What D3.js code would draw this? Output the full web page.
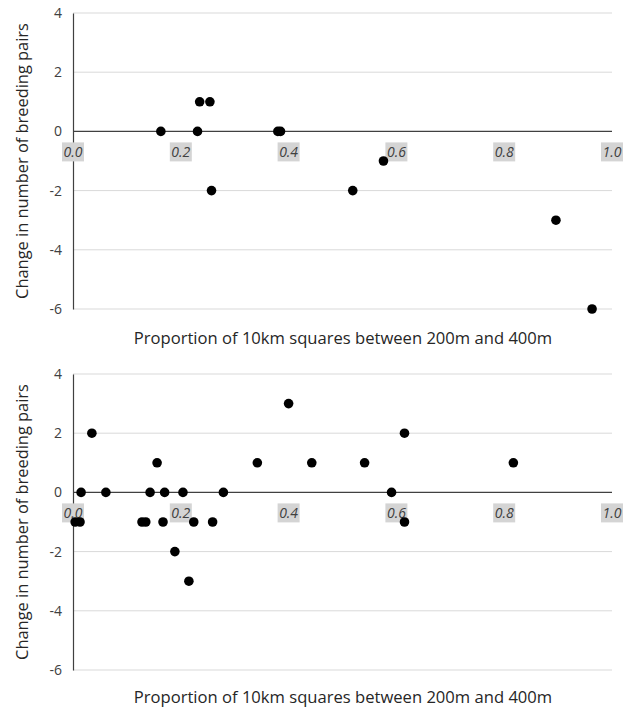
<!DOCTYPE html>
<html>
<head>
<meta charset="utf-8">
<script src="https://cdn.jsdelivr.net/npm/d3@7"></script>
<style>
body { margin: 0; background: #fff; }
</style>
</head>
<body>
<div id="chart"></div>
<script>
// top panel points
var topX = [0.163, 0.231, 0.235, 0.254, 0.257, 0.380, 0.385, 0.519, 0.576, 0.896, 0.963];
var topY = [0, 0, 1, 1, -2, 0, 0, -2, -1, -3, -6];

// bottom panel points
var botX = [0.004, 0.013, 0.015, 0.035, 0.061, 0.128, 0.135, 0.143, 0.156, 0.167, 0.170,
            0.189, 0.204, 0.215, 0.224, 0.259, 0.279, 0.342, 0.400, 0.443, 0.541, 0.591,
            0.615, 0.615, 0.817];
var botY = [-1, -1, 0, 2, 0, -1, -1, 0, 1, -1, 0,
            -2, 0, -3, -1, -1, 0, 1, 3, 1, 1, 0,
            2, -1, 1];

var xTicks = [0, 0.2, 0.4, 0.6, 0.8, 1.0];
var yTicks = [4, 2, 0, -2, -4, -6];

var xTitle = "Proportion of 10km squares between 200m and 400m";
var yTitle = "Change in number of breeding pairs";

var W = 630, H = 709;
var font = "'Open Sans', sans-serif";

var svg = d3.select("#chart").append("svg")
	.attr("width", W)
	.attr("height", H);

function panel(xs, ys, top, bottom, titleY) {
	var g = svg.append("g");

	var x = d3.scaleLinear().domain([0, 1]).range([73, 612]);
	var y = d3.scaleLinear().domain([-6, 4]).range([bottom, top]);

	//gridlines
	g.selectAll(".grid")
		.data(yTicks.filter(function(d){ return d != 0; }))
		.enter().append("line")
			.attr("x1", x(0)).attr("x2", x(1))
			.attr("y1", function(d){ return y(d); })
			.attr("y2", function(d){ return y(d); })
			.attr("stroke", "#d9d9d9")
			.attr("stroke-width", 1);

	// y axis
	var yAxis = d3.axisLeft(y).tickValues(yTicks).tickSize(0).tickPadding(11)
		.tickFormat(function(d){ return d; });
	var ya = g.append("g")
		.attr("transform", "translate(" + x(0) + ",0)")
		.call(yAxis);
	ya.select(".domain").attr("stroke", "#404040").attr("stroke-width", 1.2);
	ya.selectAll("text")
		.attr("font-family", font)
		.attr("font-size", "14px")
		.attr("fill", "#404040");

	// zero line
	g.append("line")
		.attr("x1", x(0)).attr("x2", x(1))
		.attr("y1", y(0)).attr("y2", y(0))
		.attr("stroke", "#404040")
		.attr("stroke-width", 1.2);

	// x tick labels (grey boxes)
	var lab = g.selectAll(".xlab")
		.data(xTicks)
		.enter().append("g")
			.attr("transform", function(d){ return "translate(" + x(d) + "," + (y(0) + 21) + ")"; });
	lab.append("rect")
		.attr("x", -11).attr("y", -10)
		.attr("width", 22).attr("height", 19)
		.attr("fill", "#d4d4d4");
	lab.append("text")
		.attr("text-anchor", "middle")
		.attr("dy", "0.35em")
		.attr("font-family", font)
		.attr("font-style", "italic")
		.attr("font-size", "14px")
		.attr("fill", "#404040")
		.text(function(d){ return d3.format(".1f")(d); });

	// points
	g.selectAll("circle")
		.data(xs.map(function(v, i){ return [v, ys[i]]; }))
		.enter().append("circle")
			.attr("cx", function(d){ return x(d[0]); })
			.attr("cy", function(d){ return y(d[1]); })
			.attr("r", 4.8)
			.attr("fill", "#000");

	// titles
	g.append("text")
		.attr("x", 343).attr("y", titleY)
		.attr("text-anchor", "middle")
		.attr("font-family", font)
		.attr("font-size", "16.6px")
		.attr("fill", "#262626")
		.text(xTitle);

	g.append("text")
		.attr("transform", "translate(28," + ((top + bottom) / 2) + ") rotate(-90)")
		.attr("text-anchor", "middle")
		.attr("font-family", font)
		.attr("font-size", "16.4px")
		.attr("fill", "#262626")
		.text(yTitle);
}

panel(topX, topY, 13, 309, 344);
panel(botX, botY, 374, 670, 703);
</script>
</body>
</html>
